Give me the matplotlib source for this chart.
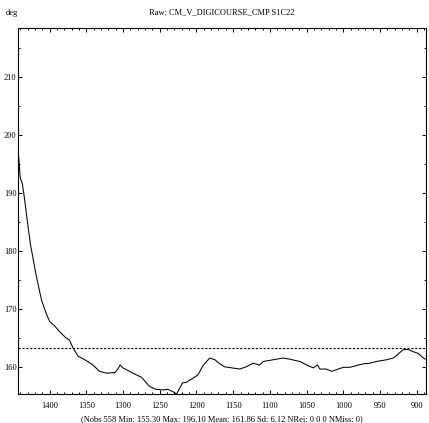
import matplotlib
matplotlib.use("Agg")
import matplotlib.pyplot as plt
from matplotlib.ticker import MultipleLocator

# values (x runs from 1443 down to 888)
shot = [1442, 1440, 1437, 1434, 1430, 1426, 1423, 1419, 1415, 1411,
        1405, 1400, 1393, 1386, 1378, 1373, 1368, 1361, 1352, 1341,
        1332, 1323, 1311, 1307, 1304, 1300, 1291, 1282, 1275, 1268,
        1264, 1255, 1246, 1239, 1232, 1227, 1224, 1219, 1214, 1205,
        1198, 1191, 1182, 1175, 1168, 1162, 1152, 1141, 1132, 1123,
        1114, 1109, 1100, 1091, 1082, 1073, 1059, 1050, 1041, 1035,
        1032, 1023, 1016, 1009, 1000, 991, 982, 973, 964, 955,
        941, 932, 926, 919, 912, 905, 898, 891, 888]
heading = [196.1, 192.6, 191.5, 188.8, 184.8, 181.0, 179.0, 176.2, 173.8, 171.5,
           169.3, 167.8, 167.0, 166.0, 165.0, 164.6, 163.2, 161.8, 161.2, 160.3,
           159.2, 158.9, 159.0, 159.6, 160.3, 159.8, 159.2, 158.6, 158.2, 157.2,
           156.6, 156.1, 156.0, 156.1, 155.7, 155.3, 156.0, 157.2, 157.3, 158.0,
           158.6, 160.2, 161.5, 161.2, 160.5, 160.0, 159.8, 159.6, 160.0, 160.6,
           160.3, 160.9, 161.1, 161.3, 161.5, 161.3, 160.9, 160.3, 159.8, 160.3,
           159.6, 159.6, 159.2, 159.5, 159.9, 159.9, 160.2, 160.5, 160.6, 160.9,
           161.2, 161.5, 162.1, 162.9, 163.0, 162.6, 162.3, 161.5, 161.3]
ref_level = 163.3
title = "Raw: CM_V_DIGICOURSE_CMP S1C22"
stats = "(Nobs 558 Min: 155.30 Max: 196.10 Mean: 161.86 Sd: 6.12 NRej: 0 0 0 NMiss: 0)"

plt.rcParams['font.family'] = ['Liberation Serif', 'DejaVu Serif']
plt.rcParams['font.size'] = 6

fig = plt.figure(figsize=(4.29, 4.23), dpi=100)
ax = fig.add_axes([0.042, 0.0686, 0.950, 0.8654])

ax.plot(shot, heading, color='black', linewidth=0.75)
ax.axhline(ref_level, color='black', linewidth=0.8, dashes=(2, 1.5))

ax.set_xlim(1443, 888)
ax.set_ylim(155.3, 218.4)
ax.xaxis.set_major_locator(MultipleLocator(50))
ax.xaxis.set_minor_locator(MultipleLocator(10))
ax.yaxis.set_major_locator(MultipleLocator(10))
ax.yaxis.set_minor_locator(MultipleLocator(5))
ax.tick_params(which='both', direction='in', top=True, right=True, width=0.7)
ax.tick_params(which='major', length=3)
ax.tick_params(which='minor', length=1.5)
ax.tick_params(axis='y', pad=1)
ax.tick_params(axis='x', pad=6)
for s in ax.spines.values():
    s.set_linewidth(0.8)

fig.text(0.042, 0.97, "deg", ha='right', va='center')
fig.text(0.517, 0.97, title, ha='center', va='center')
fig.text(0.517, 0.008, stats, ha='center', va='center')

fig.savefig("out.png", dpi=100)
